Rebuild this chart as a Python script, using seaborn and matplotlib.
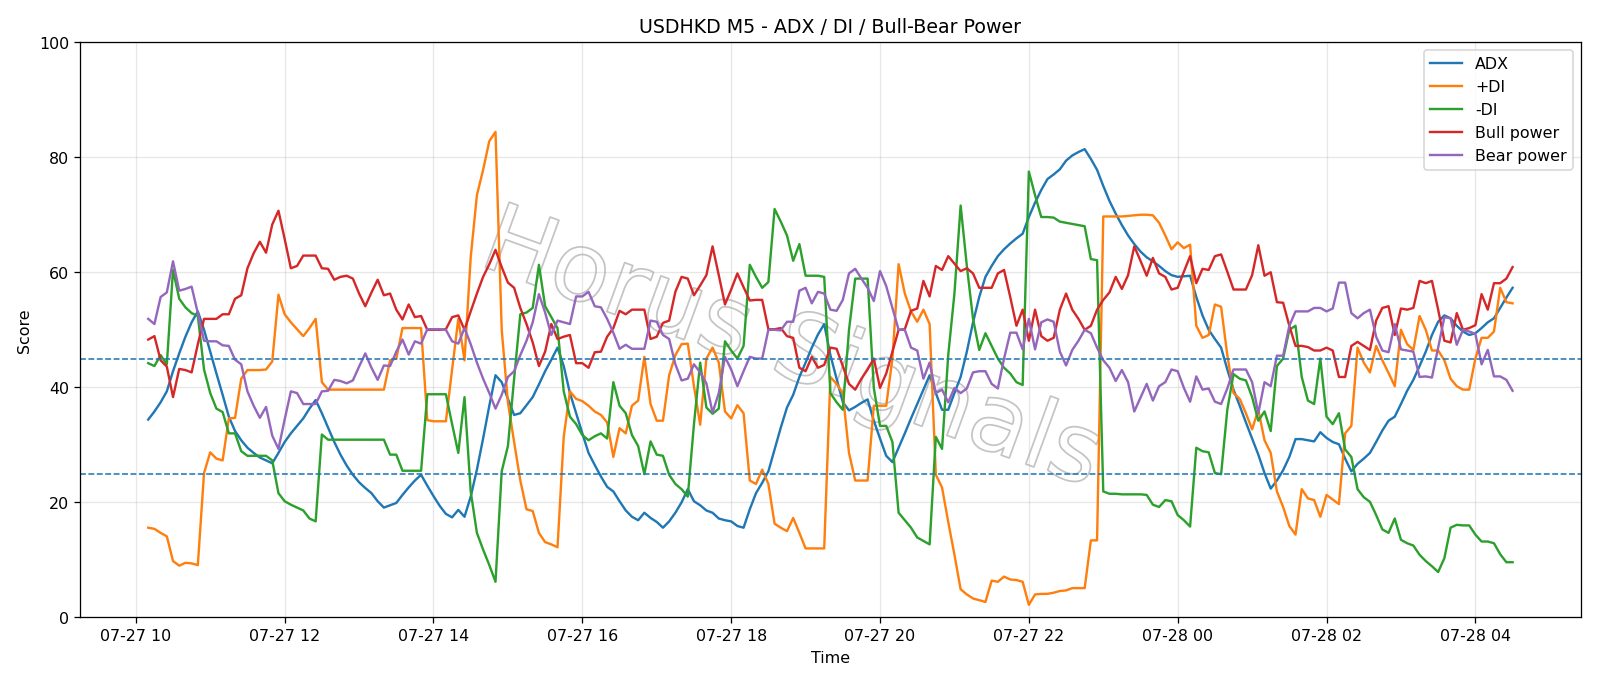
import numpy as np
import pandas as pd
import matplotlib
matplotlib.use("Agg")
import matplotlib.pyplot as plt
import matplotlib.dates as mdates
import matplotlib.patheffects as pe
import seaborn as sns

# ---------------- data (5-minute bars, 07-27 10:10 -> 07-28 04:30) ----------------
start_time = "2024-07-27 10:10"
n_bars = 221

adx = [
    34.4, 35.8, 37.4, 39.3, 42.8, 45.9, 48.8, 51.3, 53.2, 50.0,
    46.2, 42.4, 38.7, 34.9, 32.4, 30.8, 29.5, 28.6, 27.8, 27.3,
    26.8, 28.6, 30.5, 32.0, 33.3, 34.6, 36.3, 37.8, 35.5, 33.0,
    30.5, 28.3, 26.4, 24.8, 23.5, 22.5,
    21.6, 20.2, 19.1, 19.5, 19.9, 21.3, 22.6, 23.8, 24.8, 22.9,
    21.1, 19.4, 18.0, 17.4, 18.7, 17.5, 21.0, 25.7, 31.1, 36.8,
    42.1, 40.9, 38.0, 35.2, 35.5, 36.9, 38.3, 40.5, 42.8, 44.8,
    46.9, 43.7, 39.0, 35.5, 32.0, 28.6, 26.5,
    24.5, 22.7, 21.9, 20.2, 18.6, 17.5, 16.9, 18.2, 17.3, 16.6,
    15.6, 16.7, 18.2, 20.0, 22.3, 20.2, 19.5, 18.6, 18.2, 17.2,
    16.9, 16.7, 15.9, 15.6, 18.8, 21.6, 23.4, 25.4, 29.2, 33.0,
    36.5, 38.7, 41.8, 44.3, 46.9, 49.2, 51.0,
    45.6, 41.5, 37.4, 36.0, 36.6, 37.3, 37.9, 34.2, 31.1, 28.1,
    27.0, 29.5, 32.0, 34.6, 37.1, 39.6, 42.1, 39.0, 36.1, 36.1,
    39.0, 41.8, 46.2, 51.3, 55.7, 59.2, 61.1, 62.8, 64.0, 65.0,
    65.9, 66.7, 69.6, 72.1, 74.3, 76.2, 77.0,
    77.9, 79.4, 80.3, 80.9, 81.4, 79.7, 77.8, 75.0, 72.4, 70.2,
    68.2, 66.4, 64.9, 63.6, 62.6, 61.9, 61.1, 60.2, 59.5, 59.2,
    59.3, 59.4, 55.7, 52.5, 50.0, 48.4, 46.9, 43.1, 39.6, 36.8,
    33.9, 31.1, 28.3, 25.1, 22.4, 23.8, 25.6,
    27.9, 31.0, 31.0, 30.8, 30.6, 32.2, 31.2, 30.5, 30.1, 27.6,
    25.4, 26.7, 27.6, 28.6, 30.5, 32.5, 34.2, 34.9, 37.1, 39.4,
    41.3, 43.7, 46.2, 49.1, 51.4, 52.5, 52.0, 50.7, 49.7, 49.1,
    49.4, 50.3, 51.3, 52.0, 53.8, 55.6, 57.3,
]

plus_di = [
    15.6, 15.4, 14.7, 14.1, 9.8, 9.0, 9.5, 9.4, 9.1, 25.1,
    28.7, 27.6, 27.3, 34.6, 34.7, 41.5, 43.0, 43.0, 43.0, 43.1,
    44.5, 56.1, 52.7, 51.3, 50.1, 48.9, 50.3, 51.9, 40.9, 39.6,
    39.6, 39.6, 39.6, 39.6, 39.6, 39.6,
    39.6, 39.6, 39.6, 44.7, 45.0, 50.3, 50.3, 50.3, 50.3, 34.3,
    34.1, 34.1, 34.1, 43.1, 51.9, 44.7, 62.6, 73.4, 77.8, 82.8,
    84.4, 50.0, 37.4, 30.5, 23.8, 18.8, 18.5, 14.7, 13.1, 12.7,
    12.2, 31.4, 39.3, 38.0, 37.6, 36.8, 35.8,
    35.2, 33.9, 27.9, 32.9, 32.0, 36.8, 37.7, 45.3, 37.1, 34.2,
    34.2, 42.1, 45.6, 47.5, 47.6, 40.2, 33.5, 45.0, 46.9, 44.3,
    35.8, 34.6, 36.9, 35.5, 23.8, 23.2, 25.7, 23.2, 16.3, 15.6,
    15.0, 17.3, 14.7, 12.0, 12.0, 12.0, 12.0,
    41.8, 40.6, 39.0, 28.6, 23.8, 23.8, 23.8, 36.8, 36.8, 36.8,
    45.0, 61.4, 56.3, 53.2, 51.4, 53.5, 51.0, 24.8, 22.6, 16.6,
    10.9, 4.9, 4.0, 3.3, 3.0, 2.7, 6.4, 6.2, 7.1, 6.6,
    6.5, 6.2, 2.2, 4.0, 4.1, 4.1, 4.3,
    4.6, 4.7, 5.1, 5.1, 5.1, 13.4, 13.4, 69.7, 69.7, 69.7,
    69.7, 69.8, 69.9, 70.0, 70.0, 69.9, 68.6, 66.4, 64.0, 65.2,
    64.2, 64.8, 50.7, 48.6, 49.1, 54.4, 54.0, 45.6, 39.0, 38.0,
    35.5, 32.7, 36.1, 30.8, 28.6, 21.9, 19.2,
    15.9, 14.4, 22.3, 20.7, 20.4, 17.5, 21.3, 20.5, 19.7, 32.0,
    33.3, 46.9, 44.3, 42.6, 47.2, 44.7, 42.5, 40.2, 50.0, 47.5,
    46.5, 52.4, 50.0, 46.4, 46.4, 44.7, 41.5, 40.2, 39.6, 39.6,
    45.0, 48.6, 48.6, 49.7, 57.3, 54.8, 54.6,
]

minus_di = [
    44.2, 43.7, 45.6, 44.0, 60.4, 55.4, 53.9, 52.9, 52.4, 43.1,
    39.0, 36.3, 35.7, 32.0, 32.0, 28.9, 28.1, 28.1, 28.1, 28.1,
    27.3, 21.6, 20.2, 19.6, 19.1, 18.6, 17.2, 16.7, 31.8, 30.9,
    30.9, 30.9, 30.9, 30.9, 30.9, 30.9,
    30.9, 30.9, 30.9, 28.3, 28.3, 25.5, 25.5, 25.5, 25.5, 38.8,
    38.8, 38.8, 38.8, 33.6, 28.6, 38.3, 21.9, 14.7, 11.8, 9.1,
    6.2, 25.4, 29.8, 41.5, 52.7, 53.0, 53.8, 61.3, 54.1, 52.2,
    50.3, 39.3, 34.9, 33.6, 31.7, 30.8, 31.5,
    32.0, 31.1, 40.9, 36.8, 35.5, 31.7, 29.8, 24.9, 30.6, 28.3,
    28.1, 24.8, 23.2, 22.3, 21.0, 33.6, 44.3, 36.5, 35.4, 36.3,
    48.0, 46.4, 45.0, 47.2, 61.3, 59.2, 57.3, 58.3, 71.0, 68.8,
    66.4, 62.0, 64.9, 59.4, 59.4, 59.4, 59.2,
    39.0, 37.4, 36.1, 50.0, 58.9, 58.9, 58.9, 39.9, 33.3, 33.3,
    30.5, 18.2, 16.9, 15.6, 13.9, 13.3, 12.7, 31.4, 29.3, 45.6,
    56.3, 71.6, 61.1, 51.9, 46.5, 49.4, 47.2, 45.0, 43.4, 42.4,
    40.9, 40.4, 77.5, 73.4, 69.6, 69.6, 69.5,
    68.8, 68.6, 68.4, 68.2, 68.0, 62.3, 62.1, 21.9, 21.5, 21.5,
    21.4, 21.4, 21.4, 21.4, 21.3, 19.6, 19.2, 20.4, 20.2, 17.8,
    16.9, 15.8, 29.5, 28.9, 28.7, 25.1, 24.9, 36.1, 42.3, 41.5,
    41.2, 38.3, 34.2, 35.8, 32.4, 43.7, 45.0,
    50.0, 50.7, 41.8, 37.7, 37.1, 45.0, 34.9, 33.6, 35.5, 29.2,
    27.9, 22.3, 20.9, 20.1, 17.8, 15.3, 14.7, 17.2, 13.5, 12.9,
    12.5, 10.9, 9.8, 8.9, 7.9, 10.3, 15.6, 16.1, 16.0, 16.0,
    14.4, 13.2, 13.2, 12.9, 11.0, 9.6, 9.6,
]

bull_power = [
    48.3, 48.9, 44.7, 43.6, 38.3, 43.2, 43.0, 42.6, 47.5, 51.9,
    51.9, 51.9, 52.7, 52.7, 55.4, 56.0, 60.7, 63.3, 65.3, 63.4,
    68.3, 70.7, 65.8, 60.7, 61.1, 62.9, 62.9, 62.9, 60.7, 60.6,
    58.7, 59.2, 59.4, 58.9, 56.3, 54.1,
    56.5, 58.7, 56.0, 56.3, 53.5, 51.8, 54.4, 52.2, 52.4, 50.0,
    50.0, 50.0, 50.1, 52.2, 52.5, 50.0, 53.2, 56.3, 59.2, 61.4,
    63.9, 60.9, 58.2, 57.3, 53.8, 51.0, 47.8, 43.7, 46.2, 51.0,
    48.4, 48.8, 49.1, 44.2, 44.2, 43.4, 46.1,
    46.2, 48.8, 50.3, 53.3, 52.7, 53.5, 53.5, 53.5, 48.4, 48.8,
    51.2, 51.6, 56.6, 59.2, 58.9, 56.0, 57.7, 59.5, 64.5, 59.5,
    54.4, 57.0, 59.8, 57.4, 55.1, 55.2, 55.2, 50.1, 50.1, 50.3,
    48.9, 48.6, 43.4, 42.8, 45.3, 43.4, 43.9,
    46.9, 46.7, 43.7, 40.6, 39.6, 41.5, 43.1, 45.0, 39.9, 42.4,
    46.2, 50.0, 50.1, 53.3, 53.7, 58.5, 55.8, 61.1, 60.4, 62.8,
    61.5, 60.2, 60.7, 59.8, 57.3, 57.3, 57.3, 59.8, 60.4, 55.7,
    50.7, 53.5, 48.1, 53.5, 48.9, 48.1, 48.6,
    53.5, 56.3, 53.5, 51.9, 50.0, 50.7, 53.5, 55.2, 56.5, 59.2,
    57.1, 59.5, 64.5, 62.0, 59.4, 62.5, 59.8, 59.2, 57.0, 57.3,
    60.1, 62.8, 58.1, 60.6, 60.4, 62.8, 63.1, 60.1, 57.0, 57.0,
    57.0, 59.5, 64.7, 59.4, 60.0, 54.8, 54.7,
    50.7, 47.2, 47.2, 47.0, 46.4, 46.4, 46.9, 46.4, 41.8, 41.8,
    47.2, 47.9, 47.2, 46.5, 51.6, 53.8, 54.1, 49.1, 53.7, 53.5,
    53.8, 58.5, 58.1, 58.5, 53.5, 48.1, 47.8, 52.9, 50.0, 50.3,
    50.8, 56.2, 53.5, 58.1, 58.1, 58.9, 60.9,
]

bear_power = [
    51.9, 51.0, 55.7, 56.5, 61.9, 56.8, 57.1, 57.5, 52.9, 48.1,
    48.0, 48.0, 47.3, 47.2, 44.8, 44.0, 39.3, 36.8, 34.7, 36.6,
    31.6, 29.3, 34.4, 39.3, 39.0, 37.1, 37.1, 37.1, 39.3, 39.4,
    41.3, 41.1, 40.7, 41.2, 43.6, 45.9,
    43.4, 41.3, 43.8, 43.7, 46.2, 48.3, 45.7, 48.0, 47.6, 50.1,
    50.1, 50.1, 50.0, 48.0, 47.6, 50.3, 47.5, 44.3, 41.5, 39.0,
    36.3, 38.7, 41.8, 42.8, 45.6, 48.1, 51.3, 56.2, 53.0, 49.1,
    51.6, 51.3, 51.0, 55.8, 55.8, 56.6, 54.1,
    53.9, 51.9, 49.5, 46.7, 47.4, 46.7, 46.7, 46.7, 51.6, 51.4,
    49.1, 48.4, 44.0, 41.2, 41.5, 44.0, 42.6, 40.7, 35.6, 39.0,
    45.3, 43.1, 40.2, 42.8, 45.3, 45.0, 45.0, 50.0, 50.0, 49.9,
    51.4, 51.4, 56.8, 57.3, 54.6, 56.6, 56.3,
    53.5, 53.3, 55.2, 59.8, 60.6, 58.9, 57.3, 55.0, 60.2, 57.6,
    53.8, 50.0, 50.0, 46.9, 46.4, 41.5, 44.3, 39.0, 39.6, 37.4,
    39.9, 39.0, 39.8, 42.6, 42.8, 42.8, 40.6, 39.8, 45.0, 49.5,
    49.5, 46.6, 51.9, 46.6, 51.3, 51.8, 51.4,
    46.2, 43.8, 46.5, 48.1, 50.0, 49.4, 46.9, 44.7, 43.4, 41.1,
    43.0, 40.9, 35.8, 38.2, 40.6, 37.7, 40.2, 40.9, 43.1, 42.8,
    39.9, 37.5, 41.9, 39.6, 39.8, 37.5, 37.1, 39.8, 43.1, 43.1,
    43.1, 40.9, 35.5, 40.9, 40.2, 45.5, 45.5,
    50.7, 53.2, 53.2, 53.2, 53.8, 53.8, 53.2, 53.7, 58.2, 58.2,
    52.9, 52.0, 52.9, 53.5, 48.8, 46.4, 46.1, 51.0, 46.6, 46.4,
    46.2, 41.8, 41.9, 41.7, 46.9, 52.2, 52.0, 47.4, 50.0, 49.7,
    49.3, 44.0, 46.5, 41.9, 41.9, 41.3, 39.4,
]

series_names = ["ADX", "+DI", "-DI", "Bull power", "Bear power"]
threshold_levels = [45, 25]
title_text = "USDHKD M5 - ADX / DI / Bull-Bear Power"
watermark_text = "Horus Signals"

# ---------------- build long-form frame ----------------
times = pd.date_range(start_time, periods=n_bars, freq="5min")
frame = pd.DataFrame({"Time": times, "ADX": adx, "+DI": plus_di, "-DI": minus_di,
                      "Bull power": bull_power, "Bear power": bear_power})
long = frame.melt(id_vars="Time", var_name="Series", value_name="Score")

# ---------------- plot ----------------
DPI = 1600 / 14.0
fig, ax = plt.subplots(figsize=(14, 6.0), dpi=DPI)
fig.subplots_adjust(left=0.05, right=0.988, top=0.9375, bottom=0.0985)

palette = dict(zip(series_names, sns.color_palette("tab10", 5)))
sns.lineplot(data=long, x="Time", y="Score", hue="Series", hue_order=series_names,
             palette=palette, linewidth=1.5, ax=ax)

for lvl in threshold_levels:
    ax.axhline(lvl, color="#1f77b4", linestyle="--", linewidth=1.0)

ax.set_ylim(0, 100)
ax.set_title(title_text, fontsize=12)
ax.set_xlabel("Time")
ax.set_ylabel("Score")
ax.grid(True, alpha=0.3)
ax.xaxis.set_major_locator(mdates.HourLocator(byhour=range(0, 24, 2)))
ax.xaxis.set_major_formatter(mdates.DateFormatter("%m-%d %H"))

leg = ax.legend(loc="upper right", fontsize=10)
leg.set_title(None)

ax.text(0.474, 0.463, watermark_text, transform=ax.transAxes, fontsize=60,
        color=(1, 1, 1, 0), rotation=-20, ha="center", va="center", zorder=0.5,
        path_effects=[pe.Stroke(linewidth=1.1, foreground="#c4c4c4")])

fig.savefig("out.png", dpi=DPI)
